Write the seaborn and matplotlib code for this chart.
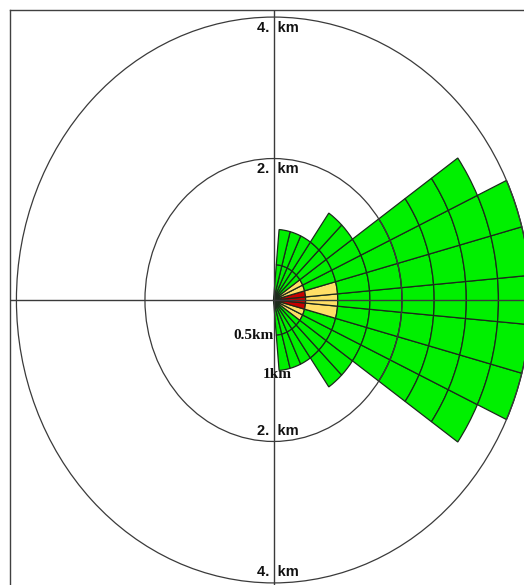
import matplotlib
matplotlib.use("Agg")
import matplotlib.pyplot as plt
from matplotlib.patches import Wedge, Circle
import seaborn as sns

# 10-degree sectors opening to the east, centre angle of each sector
sector_center_deg = [-80, -70, -60, -50, -40, -30, -20, -10, 0,
                     10, 20, 30, 40, 50, 60, 70, 80]
sector_width_deg = 10
# downwind reach of each sector (km)
sector_reach_km = [1.0, 1.0, 1.0, 1.5, 1.5, 3.5, 4.0, 4.0, 4.0,
                   4.0, 4.0, 3.5, 1.5, 1.5, 1.0, 1.0, 1.0]
ring_step_km = 0.5
# level of the first two rings per sector (0 low, 1 medium, 2 high); outer rings are low
level_ring_0 = [0, 0, 0, 0, 0, 1, 1, 2, 2, 2, 1, 1, 0, 0, 0, 0, 0]
level_ring_1 = [0, 0, 0, 0, 0, 0, 0, 1, 1, 1, 0, 0, 0, 0, 0, 0, 0]
level_colors = ["#00f000", "#ffe066", "#c80000"]

range_rings_km = [2.0, 4.0]
range_labels = ["2.  km", "4.  km"]
inner_label_pos_km = [-0.5, -1.06]
inner_labels = ["0.5km", "1km"]

sns.set_style("white")
plt.rcParams["font.family"] = ["Liberation Sans", "DejaVu Sans"]

fig = plt.figure(figsize=(5.24, 5.85), dpi=100)
ax = fig.add_axes([10 / 524, -5 / 585, 527 / 524, 580 / 585])
ax.set_xlim(-4.1, 4.1)
ax.set_ylim(-4.1, 4.1)
ax.set_xticks([])
ax.set_yticks([])
for sp in ax.spines.values():
    sp.set_color("#404040")
    sp.set_linewidth(1.0)

# sector cells
half = sector_width_deg / 2
for i, (c, reach) in enumerate(zip(sector_center_deg, sector_reach_km)):
    n_rings = int(round(reach / ring_step_km))
    for k in range(n_rings):
        if k == 0:
            lvl = level_ring_0[i]
        elif k == 1:
            lvl = level_ring_1[i]
        else:
            lvl = 0
        ax.add_patch(Wedge((0, 0), (k + 1) * ring_step_km, c - half, c + half,
                           width=ring_step_km, facecolor=level_colors[lvl],
                           edgecolor="#1c2a1c", linewidth=0.9, zorder=2))

# range rings
for r in range_rings_km:
    ax.add_patch(Circle((0, 0), r, fill=False, edgecolor="#3a3a3a",
                        linewidth=0.9, zorder=3))

# cross hair
ax.axhline(0, color="#3a3a3a", linewidth=1.0, zorder=4)
ax.axvline(0, color="#3a3a3a", linewidth=1.0, zorder=4)

# range labels above and below the centre
for r, lab in zip(range_rings_km, range_labels):
    for sgn in (1, -1):
        ax.text(0.068, sgn * (r - 0.15), lab, ha="center", va="center",
                fontsize=10.5, fontweight="bold", color="#111111", zorder=5)

ax.text(0.0, inner_label_pos_km[0], inner_labels[0], ha="right", va="center",
        fontsize=11, fontweight="bold", family=["Liberation Serif"],
        color="#111111", zorder=5)
ax.text(0.06, inner_label_pos_km[1], inner_labels[1], ha="center", va="center",
        fontsize=11, fontweight="bold", family=["Liberation Serif"],
        color="#111111", zorder=5)

fig.savefig("out.png", dpi=100)
